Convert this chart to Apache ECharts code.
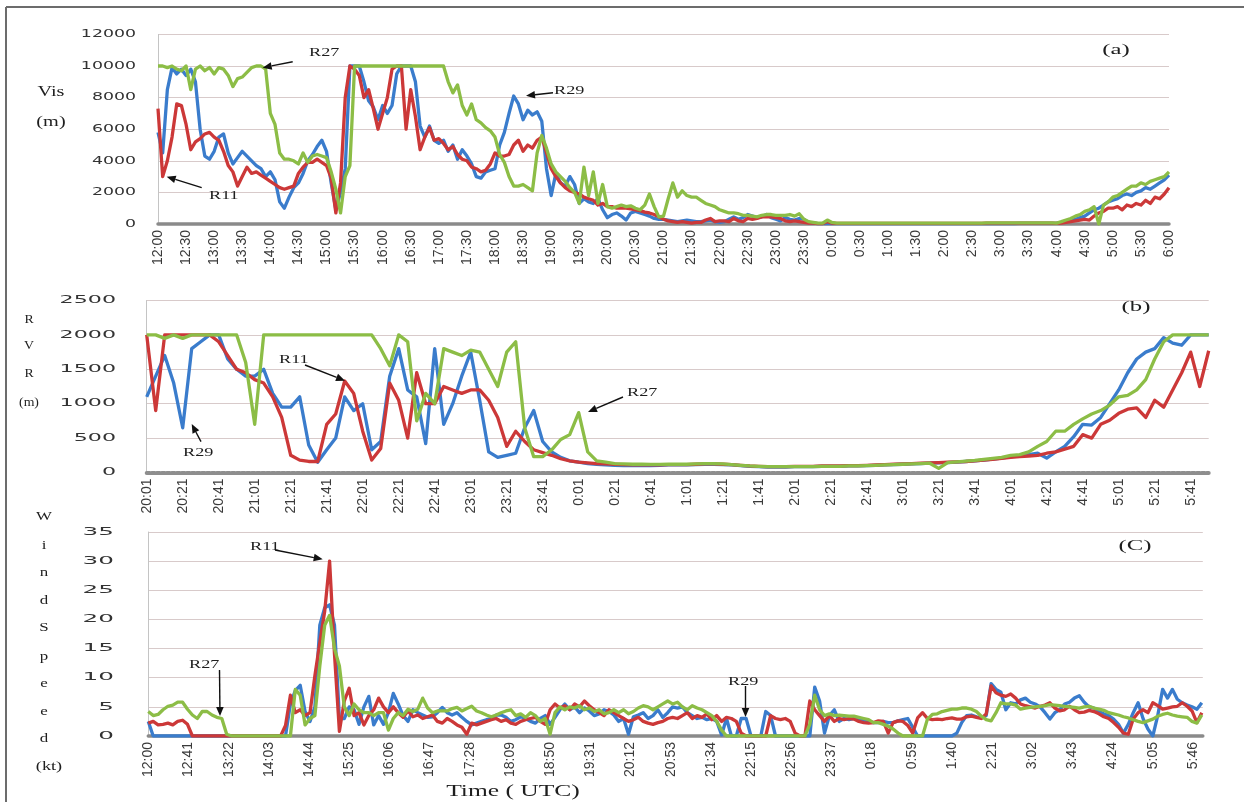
<!DOCTYPE html>
<html>
<head>
<meta charset="utf-8">
<script src="https://cdn.jsdelivr.net/npm/echarts/dist/echarts.min.js"></script>
<style>
  html, body { margin: 0; padding: 0; background: #fff; }
  #chart { width: 1244px; height: 802px; }
</style>
</head>
<body>
<div id="chart"></div>
<script>
// ---------- (a) visibility, metres, one sample every 5 min from 12:00 ----------
const VIS_STEP = 5;
const visR29 = [
  5800,4500,8500,9900,9500,9800,9400,9800,9000,6000,4300,4100,          // 12:00
  4600,5500,5700,4500,3800,4200,4600,4300,4000,3700,3500,3000,          // 13:00
  3300,2800,1400,1000,1700,2300,2600,3200,4000,4400,4900,5300,          // 14:00
  4600,2600,900,2000,3500,10000,10000,10000,9000,7800,7400,6600,        // 15:00
  7500,7000,7500,9500,10000,10000,10000,9000,6200,5500,6200,5300,       // 16:00
  5100,5300,4600,5000,4100,4700,4300,3800,3000,2900,3300,3400,          // 17:00
  3500,5000,5800,7000,8100,7600,6600,7200,6900,7100,6500,3500,          // 18:00
  1800,3200,2600,2400,3000,2500,1300,1600,1400,1300,1600,900,           // 19:00
  400,600,700,500,250,700,800,700,600,500,350,300,                      // 20:00
  300,250,200,150,200,250,200,150,150,200,250,150,                      // 21:00
  100,150,300,450,300,400,600,500,400,450,600,400,                      // 22:00
  300,200,400,300,250,350,300,100,50,20,20,30,                          // 23:00
  20,20,20,20,20,20,20,20,20,20,20,20,                                  // 0:00
  20,20,20,20,20,20,20,20,20,20,20,20,                                  // 1:00
  20,20,20,20,25,25,25,25,25,30,30,30,                                  // 2:00
  30,30,30,30,35,35,35,40,40,40,45,45,                                  // 3:00
  50,100,150,200,300,400,500,700,900,1000,1200,1400,                    // 4:00
  1500,1600,1800,1900,1800,2000,2100,2300,2200,2400,2600,2800,          // 5:00
  3100                                                                  // 6:00
];
const visR11 = [
  7300,3000,4000,5500,7600,7500,6300,4700,5200,5400,5700,5800,
  5500,5300,4600,3700,3300,2400,3000,3600,3200,3300,3100,2900,
  2700,2500,2300,2200,2300,2400,3200,3600,3900,3900,4100,3900,
  3700,2900,700,2600,8000,10000,9800,9400,8000,8500,7300,6000,
  7000,8000,9800,10000,10000,6000,8500,6800,4700,5500,6100,5300,
  5400,5100,4700,4900,4400,4100,4000,3600,3500,3300,3400,3800,
  4500,4300,4300,4400,5000,5300,4600,5000,4800,5300,5500,4500,
  3500,3000,2600,2300,2100,2000,1900,1700,1600,1500,1200,1300,
  1100,1100,1000,1000,1000,950,900,850,750,700,600,450,
  300,200,150,100,150,100,50,100,100,250,350,150,
  200,200,150,350,200,150,350,300,350,450,450,450,
  400,350,200,150,200,150,100,50,50,30,30,150,
  50,40,40,40,40,40,40,40,40,40,40,40,
  40,40,40,40,40,40,40,40,40,40,40,40,
  40,40,40,40,45,45,45,45,45,50,50,50,
  50,50,50,55,55,55,60,60,60,60,60,60,
  40,50,100,150,200,250,300,250,500,700,800,1000,
  1000,1100,900,1200,1100,1300,1200,1500,1300,1700,1600,1900,
  2300
];
const visR27 = [
  10000,10000,9900,10000,9800,9700,10000,8500,9800,10000,9700,9900,
  9500,9900,9800,9400,8700,9200,9300,9600,9900,10000,10000,9800,
  7000,6300,4500,4100,4100,4000,3800,4500,3900,4300,4400,4300,
  4200,3300,2200,700,3000,3700,10000,10000,10000,10000,10000,10000,
  10000,10000,10000,10000,10000,10000,10000,10000,10000,10000,10000,10000,
  10000,10000,9000,8300,8800,7500,6900,7600,6600,6400,6100,5900,
  5500,4400,3900,3000,2400,2400,2500,2300,2100,4500,5600,4800,
  3800,3300,3000,2700,2300,2000,1300,3600,1800,3300,1300,2500,
  1100,1000,1100,1200,1100,1150,1000,900,1200,1900,1100,450,
  500,1600,2600,1700,2100,1800,1700,1700,1500,1300,1200,1100,
  900,800,700,700,650,550,550,500,450,550,600,600,
  550,550,550,600,500,650,300,150,100,50,50,250,
  100,60,60,60,60,60,60,60,60,60,60,60,
  60,60,60,60,60,60,60,60,60,60,60,60,
  60,60,60,60,60,60,60,60,60,65,65,65,
  65,65,70,70,70,70,70,70,70,70,70,70,
  60,150,250,350,500,600,800,900,1100,0,1200,1400,
  1700,1800,2000,2200,2400,2400,2600,2500,2700,2800,2900,3000,
  3300
];

// ---------- (b) RVR, metres, one sample every 5 min from 20:01 ----------
const RVR_STEP = 5;
const rvrR29 = [
  1100,1400,1700,1300,650,1800,1900,2000,2000,1650,1500,1400,           // 20:01
  1400,1500,1150,950,950,1100,400,150,330,500,1100,900,                 // 21:01
  1000,330,450,1400,1800,1200,1100,420,1800,700,1000,1400,              // 22:01
  1750,1050,300,220,250,280,650,900,450,300,220,170,                    // 23:01
  150,130,120,110,105,100,100,100,100,105,110,110,                      // 0:01
  110,115,120,120,115,110,100,90,85,80,80,80,                           // 1:01
  85,85,85,90,90,90,95,95,100,105,110,115,                              // 2:01
  120,125,130,135,140,145,150,160,170,180,195,210,                      // 3:01
  230,240,260,280,210,300,380,520,700,690,800,1000,                     // 4:01
  1200,1450,1650,1750,1800,1960,1880,1850,2000,2000,2000                // 5:01
];
const rvrR11 = [
  2000,900,2000,2000,2000,2000,2000,2000,1900,1700,1500,1450,
  1350,1300,1100,800,250,180,160,160,700,850,1330,1150,
  600,180,350,1300,1050,500,1450,1000,1000,1250,1200,1150,
  1200,1200,1050,800,380,600,450,330,290,250,200,170,
  150,140,130,125,120,115,110,110,110,110,115,115,
  115,120,125,125,120,115,105,95,90,85,85,85,
  90,90,90,95,95,95,100,100,105,110,115,120,
  125,130,135,140,145,150,155,160,170,180,190,205,
  220,230,240,250,280,300,340,380,550,500,700,760,
  860,920,940,800,1050,950,1200,1450,1750,1250,1770
];
const rvrR27 = [
  2000,2000,1950,2000,1950,2000,2000,2000,2000,2000,2000,1600,
  700,2000,2000,2000,2000,2000,2000,2000,2000,2000,2000,2000,
  2000,2000,1800,1550,2000,1900,750,1150,1000,1800,1750,1700,
  1780,1750,1500,1250,1750,1900,650,230,230,330,480,550,
  870,300,170,150,130,125,120,120,118,118,120,120,
  120,125,130,130,125,115,105,95,90,85,85,85,
  85,85,85,90,90,90,95,95,100,105,110,115,
  120,125,130,135,60,145,155,165,175,190,205,220,
  250,260,300,380,450,600,600,700,780,850,900,980,
  1100,1120,1200,1350,1650,1900,2000,2000,2000,2000,2000
];

// ---------- (c) wind speed, knots, one sample every 5 min from 12:00 ----------
const WIND_STEP = 5;
const windR29 = [
  2.5,0,0,0,0,0,0,0,0,0,0,0,                                            // 12:00
  0,0,0,0,0,0,0,0,0,0,0,0,                                              // 13:00
  0,0,0,0,0,5.5,7.8,8.7,4.2,2.5,5,19,                                   // 14:00
  22,22.5,19,3,3,5,4.5,2,5,6.8,1.9,3.5,                                 // 15:00
  2,4,7.3,5.5,3.5,2.5,4.5,4,3.6,3.2,3.3,4,                              // 16:00
  4.9,4,3.6,4,3.2,2.5,1.9,2.2,2.5,2.8,3,3.6,                            // 17:00
  3.6,3.2,2.5,2.8,3.3,3,2.5,2.2,3,3.5,2,3.2,                            // 18:00
  4.5,5.5,4.5,5,4,4.8,4.3,3.5,3.8,4.5,4.2,3.6,                          // 19:00
  2.5,3,0.3,3.3,3.6,4,3,3.5,4.5,3.2,4,5,                                // 20:00
  4.8,5,4,3.5,3,3.2,2.8,3,2.5,0.2,3,0,                                  // 21:00
  0,3,3,0,0,0,4.2,3.5,0,0,0,0,                                          // 22:00
  0,0,0,0,8.4,6,0.5,3.5,4.5,2.5,3,2.8,                                  // 23:00
  3,2.8,2.6,2.4,2.3,2.3,2.5,2.3,2.3,2.6,2.8,3,                          // 0:00
  1.5,0,0,0,0,0,0,0,0,0.5,2.3,3.5,                                      // 1:00
  3.6,3.3,3.1,3.5,9,8,7.5,4.5,5.7,5.5,6.2,6.5,                          // 2:00
  5.8,5.5,5,4,2.9,4,4.5,5.5,5.8,6.5,6.9,5.8,                            // 3:00
  5,4.8,4.2,3.8,3.5,2.9,2,0.5,2,4,5.7,3,                                // 4:00
  1.2,0,3.5,8,6.5,8,6.3,5.7,5.3,5,4.6,5.7                               // 5:00
];
const windR11 = [
  2.2,2.5,1.9,2,2.2,1.9,2.5,2.7,2,0,0,0,
  0,0,0,0,0,0,0,0,0,0,0,0,
  0,0,0,0,1.8,7,4,4.5,3.5,4,10.4,16,
  21.4,30,14,0.8,6,8.2,3.5,4,1.9,3.5,4.5,6.5,
  5,4,5,4,3.2,4.3,3.3,3.6,3,3.3,3.6,2.5,
  2.2,3,2.5,1.9,1.5,0.3,2.2,1.9,2.2,2.5,2.8,3,
  2.5,2.8,2.2,2,2.5,2.8,3,3.2,2.5,2,4.5,5.5,
  4.8,5.2,4.5,5.5,5,6,5.2,4.5,4,3.5,4.5,4,
  3.5,3,2.5,2.8,3.2,2.5,2.2,2,2.3,2.5,3,3.2,
  3,3.5,4,3,3.5,3.2,3.8,2.8,3.5,2.5,3.2,3,
  2.5,0.5,0,0,0,0,0,3.5,3,2.8,3,2.5,
  0.5,0,0,6,4.5,3.5,2.5,3.5,2.5,3,2.8,3,
  2.9,2.5,2.3,2.2,2.3,2.6,2.5,0.5,2.3,2.6,2.5,1.8,
  0.5,3.1,4,3,2.8,2.9,2.8,3,3.1,2.9,2.9,3.3,
  3.4,3.2,3,3.8,8.6,7.4,7,6.8,7.2,6.5,5.5,5.2,
  5,4.8,5.1,5.3,5.7,4.8,4.3,4.5,5.1,4.5,4,4.1,
  4.4,4.2,3.8,3.3,3,2.3,1.5,0.5,0.3,2.9,4,4.5,
  4,5.7,5.2,4.6,4.8,5,5.1,5.7,5.1,4.3,2.3,4
];
const windR27 = [
  4.2,3.5,3.7,4.5,5.1,5.3,5.8,5.8,4.6,3.6,3,4.2,
  4.2,3.6,3.2,3,0.3,0,0,0,0,0,0,0,
  0,0,0,0,0,0,8,7,1.9,3,3.5,12,
  19,20.7,15,12,5,3.5,5.5,4.5,4,4,3.5,4,
  4,1,3,4,3.5,4.6,4.2,4.6,6.5,4.8,4,4.3,
  4.3,4.3,4.7,4.9,4.3,4.7,5.1,4.3,4,3.6,3.3,3.6,
  4,4.3,4.5,3.5,3.8,3.2,4,3.5,2.5,3,0.3,4,
  5,4.5,5,4.8,5.2,4.5,4.8,4.2,4.5,3.8,4,4.5,
  4,4.5,3.8,4.2,4.8,5.2,5,4.5,5,5.5,6,5.5,
  5.8,5,4.5,5.2,4.8,4.5,4,3.5,2.5,1,0,0,
  0,0,0,0,0,0,0,0,0,0,0,0,
  0,0,0,2,7,4.5,3.5,3.8,3.5,3.6,3.5,3.4,
  3.4,3.2,3,2.8,2.3,2.3,2,1.7,1.2,0.5,0,0,
  0,0,0,2.9,3.7,3.8,4.2,4.4,4.6,4.6,4.8,4.8,
  4.6,4.2,3.4,2.8,2.6,4,5.7,5.5,5.5,5.3,4.6,4.8,
  4.9,5,5.1,5.2,5.4,5.3,5.2,5.1,5,4.9,4.8,5,
  5.1,4.8,4.6,4.4,4,3.8,3.6,3.3,3.1,2.8,2.5,2.3,
  2.6,2.9,3.4,3.7,3.9,3.6,3.4,3.3,3.2,2.5,2.2,3.6
];

// ---------- tick labels ----------
const visTicks = ['12:00','12:30','13:00','13:30','14:00','14:30','15:00','15:30','16:00','16:30',
  '17:00','17:30','18:00','18:30','19:00','19:30','20:00','20:30','21:00','21:30','22:00','22:30',
  '23:00','23:30','0:00','0:30','1:00','1:30','2:00','2:30','3:00','3:30','4:00','4:30','5:00',
  '5:30','6:00'];
const rvrTicks = ['20:01','20:21','20:41','21:01','21:21','21:41','22:01','22:21','22:41','23:01',
  '23:21','23:41','0:01','0:21','0:41','1:01','1:21','1:41','2:01','2:21','2:41','3:01','3:21',
  '3:41','4:01','4:21','4:41','5:01','5:21','5:41'];
const windTicks = ['12:00','12:41','13:22','14:03','14:44','15:25','16:06','16:47','17:28','18:09',
  '18:50','19:31','20:12','20:53','21:34','22:15','22:56','23:37','0:18','0:59','1:40','2:21',
  '3:02','3:43','4:24','5:05','5:46'];
const visYTicks = [0, 2000, 4000, 6000, 8000, 10000, 12000];
const rvrYTicks = [0, 500, 1000, 1500, 2000, 2500];
const windYTicks = [0, 5, 10, 15, 20, 25, 30, 35];

// ---------- layout & styling ----------
const COLORS = { R29: '#3a7ccc', R11: '#cc3838', R27: '#8cbd46' };
const SERIF = '"Liberation Serif", "Times New Roman", serif';
const NUMFONT = '"DejaVu Sans", sans-serif';

const panels = [
  { grid: { left: 158, top: 34.4, width: 1011, height: 189.6 },
    xMax: 1080, xInterval: 30, xTicks: visTicks, yMax: 12000, yInterval: 2000,
    yTicks: visYTicks, step: VIS_STEP, data: [visR29, visR11, visR27],
    labelRight: 136, labelScale: 1.72, dashedAxis: false },
  { grid: { left: 146.7, top: 300.5, width: 1062, height: 172 },
    xMax: 590, xInterval: 20, xTicks: rvrTicks, yMax: 2500, yInterval: 500,
    yTicks: rvrYTicks, step: RVR_STEP, data: [rvrR29, rvrR11, rvrR27],
    labelRight: 116, labelScale: 2.2, dashedAxis: true },
  { grid: { left: 148.3, top: 532, width: 1054.5, height: 204 },
    xMax: 1076, xInterval: 41, xTicks: windTicks, yMax: 35, yInterval: 5,
    yTicks: windYTicks, step: WIND_STEP, data: [windR29, windR11, windR27],
    labelRight: 114, labelScale: 2.45, dashedAxis: false }
];

const toPairs = (arr, step) => arr.map((v, i) => [i * step, v]);

const option = {
  animation: false,
  backgroundColor: '#ffffff',
  grid: panels.map(p => Object.assign({ containLabel: false, outerBoundsMode: 'none' }, p.grid)),
  xAxis: panels.map((p, k) => ({
    type: 'value', gridIndex: k, min: 0, max: p.xMax, interval: p.xInterval,
    axisLine: { show: true, onZero: false, lineStyle: p.dashedAxis
      ? { color: '#8e8e8e', width: 4, type: [3, 2] }
      : { color: '#8a8a8a', width: 3.5 } },
    axisTick: { show: false },
    splitLine: { show: false },
    axisLabel: {
      rotate: 90, margin: 6, color: '#3a3a3a', fontSize: 14,
      fontFamily: '"Liberation Sans Narrow", "Liberation Sans", sans-serif',
      showMaxLabel: true, hideOverlap: false,
      formatter: v => {
        const idx = v / p.xInterval;
        const r = Math.round(idx);
        return Math.abs(idx - r) < 1e-6 && p.xTicks[r] !== undefined ? p.xTicks[r] : '';
      }
    }
  })),
  yAxis: panels.map((p, k) => ({
    type: 'value', gridIndex: k, min: 0, max: p.yMax, interval: p.yInterval,
    axisLine: { show: true, lineStyle: { color: '#c4c4c4', width: 1 } },
    axisTick: { show: false },
    axisLabel: { show: false },
    splitLine: { show: true, lineStyle: { color: '#d8caca', width: 1.2 } }
  })),
  series: []
};

panels.forEach((p, k) => {
  ['R29', 'R11', 'R27'].forEach((name, j) => {
    option.series.push({
      type: 'line', name: name, xAxisIndex: k, yAxisIndex: k,
      data: toPairs(p.data[j], p.step),
      showSymbol: false, symbol: 'none',
      lineStyle: { color: COLORS[name], width: 3.3, join: 'round' },
      itemStyle: { color: COLORS[name] },
      z: 2 + j
    });
  });
});

const chart = echarts.init(document.getElementById('chart'));
chart.setOption(option);

// ---------- annotation layer ----------
function text(s, x, y, size, sx, align, family) {
  return {
    type: 'text', x: x, y: y, scaleX: sx, z: 30,
    style: { text: s, font: size + 'px ' + (family || SERIF), fill: '#1e1e1e',
             align: align || 'left', verticalAlign: 'middle' }
  };
}
function arrow(x1, y1, x2, y2) {
  const dx = x2 - x1, dy = y2 - y1, L = Math.hypot(dx, dy);
  const ux = dx / L, uy = dy / L, hl = 9, hw = 3.8;
  const bx = x2 - ux * hl, by = y2 - uy * hl;
  return [
    { type: 'line', z: 30, shape: { x1: x1, y1: y1, x2: bx, y2: by },
      style: { stroke: '#111', lineWidth: 1.4 } },
    { type: 'polygon', z: 30,
      shape: { points: [[x2, y2], [bx - uy * hw, by + ux * hw], [bx + uy * hw, by - ux * hw]] },
      style: { fill: '#111' } }
  ];
}

const g = [];
// outer frame
g.push({ type: 'line', z: 30, shape: { x1: 6, y1: 7, x2: 1244, y2: 7 }, style: { stroke: '#6c6c6c', lineWidth: 2 } });
g.push({ type: 'line', z: 30, shape: { x1: 6, y1: 7, x2: 6, y2: 802 }, style: { stroke: '#6c6c6c', lineWidth: 2 } });

// value labels on the left of each panel, placed by the axis scale
panels.forEach((p, k) => {
  p.yTicks.forEach(v => {
    const pt = chart.convertToPixel({ gridIndex: k }, [0, v]);
    const t = text(String(v), p.labelRight, pt[1], 10.5, p.labelScale * 0.96, 'right', NUMFONT);
    t.style.fill = '#333333';
    g.push(t);
  });
});

// axis titles
g.push(text('Vis', 51, 92, 14, 1.45, 'center'));
g.push(text('(m)', 51, 122, 14, 1.45, 'center'));
[['R', 320], ['V', 346], ['R', 374], ['(m)', 403]].forEach(([s, y]) => g.push(text(s, 29, y, 12, 1.15, 'center')));
[['W', 517], ['i', 546], ['n', 573], ['d', 601], ['S', 628], ['p', 657], ['e', 684], ['e', 712], ['d', 739]]
  .forEach(([s, y]) => g.push(text(s, 44, y, 13, 1.3, 'center')));
g.push(text('(kt)', 49, 767, 13, 1.4, 'center'));
g.push(text('Time ( UTC)', 513, 792, 17, 1.5, 'center'));

// panel tags
g.push(text('(a)', 1116, 50, 15, 1.65, 'center'));
g.push(text('(b)', 1136, 307, 15, 1.65, 'center'));
g.push(text('(C)', 1135, 546, 15, 1.65, 'center'));

// runway callouts
g.push(text('R27', 309, 53, 13, 1.4));
g.push(...arrow(292.7, 61.7, 262.7, 67.7));
g.push(text('R11', 209, 196, 13, 1.4));
g.push(...arrow(201.7, 187.7, 166.7, 176.7));
g.push(text('R29', 554, 91, 13, 1.4));
g.push(...arrow(553, 92.7, 526, 95.7));

g.push(text('R11', 279, 360, 13, 1.4));
g.push(...arrow(305, 365, 345, 380.7));
g.push(text('R29', 183, 453, 13, 1.4));
g.push(...arrow(201, 441.7, 191.7, 424));
g.push(text('R27', 627, 393, 13, 1.4));
g.push(...arrow(623, 397, 588, 412));

g.push(text('R11', 250, 547, 13, 1.4));
g.push(...arrow(275, 550, 322.7, 559.3));
g.push(text('R27', 189, 665, 13, 1.4));
g.push(...arrow(219.5, 670, 220, 716));
g.push(text('R29', 728, 682, 13, 1.4));
g.push(...arrow(745.5, 686, 745.5, 717));

chart.setOption({ graphic: g });
</script>
</body>
</html>
